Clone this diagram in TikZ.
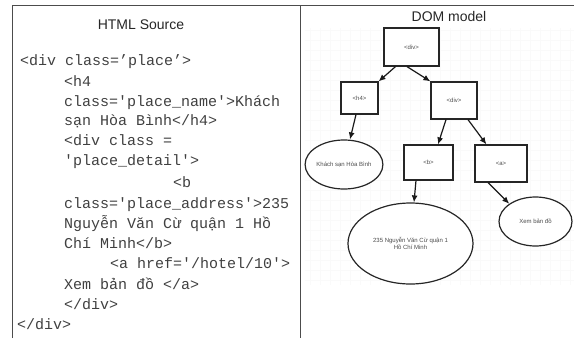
\documentclass[tikz,border=0pt]{standalone}
\usepackage{fontspec}
\setmainfont{Liberation Sans}
\setmonofont{Liberation Mono}
\usepackage{tikz}
\usetikzlibrary{shapes.geometric,arrows.meta}

\tikzset{
  title/.style={font=\fontsize{14}{16}\selectfont, text=black!85},
  code/.style={anchor=base west, inner sep=0pt, text=black!75, font=\ttfamily\fontsize{15}{18}\selectfont},
  tag/.style={draw=black!85, line width=1.2pt, fill=white, inner sep=0pt, text=black!70, font=\fontsize{6}{7}\selectfont},
  leaf/.style={tag, ellipse, align=center},
  link/.style={-{Latex[length=7pt,width=6pt]}, line width=1.2pt, black!90},
  frame/.style={draw=black!70, line width=0.9pt}
}

\begin{document}
\begin{tikzpicture}[x=1pt,y=-1pt]
    \useasboundingbox (0,0) rectangle (574,338);

    % table frame
    \draw[frame] (12,338) -- (12,5) -- (574,5);
    \draw[frame] (300,5) -- (300,338);
    \node[title] (src-title) at (141,25) {HTML Source};
    \node[title] (dom-title) at (449,16) {DOM model};

    % HTML source lines
    \node[code] (l1)  at (20,65)   {<div class=’place’>};
    \node[code] (l2)  at (64,86)   {<h4};
    \node[code] (l3)  at (64,106)  {class='place\_name'>Khách};
    \node[code] (l4)  at (64,125)  {sạn Hòa Bình</h4>};
    \node[code] (l5)  at (64,145)  {<div class =};
    \node[code] (l6)  at (64,165)  {'place\_detail'>};
    \node[code] (l7)  at (173,187) {<b};
    \node[code] (l8)  at (64,208)  {class='place\_address'>235};
    \node[code] (l9)  at (64,228)  {Nguyễn Văn Cừ quận 1 Hồ};
    \node[code] (l10) at (64,248)  {Chí Minh</b>};
    \node[code] (l11) at (110,268) {<a href='/hotel/10'>};
    \node[code] (l12) at (64,289)  {Xem bản đồ </a>};
    \node[code] (l13) at (64,309)  {</div>};
    \node[code] (l14) at (17,329)  {</div>};

    % faint canvas grid
    \draw[black!2, line width=0.4pt] (305,28) grid[step=10pt] (574,285);

    % Define nodes
    \node[tag, minimum width=55pt, minimum height=38pt] (root) at (411.5,47)   {<div>};
    \node[tag, minimum width=37pt, minimum height=32pt] (h4)   at (359.5,98)   {<h4>};
    \node[tag, minimum width=46pt, minimum height=37pt] (div)  at (454,100.5)  {<div>};
    \node[tag, minimum width=49pt, minimum height=35pt] (b)    at (428.5,162.5) {<b>};
    \node[tag, minimum width=52pt, minimum height=37pt] (a)    at (501,163.5)  {<a>};
    \node[leaf, minimum width=74pt, minimum height=49pt] (name) at (344,164.5) {Khách sạn Hòa Bình};
    \node[leaf, minimum width=125pt, minimum height=81pt] (addr) at (410.5,243.5) {235 Nguyễn Văn Cừ quận 1\\Hồ Chí Minh};
    \node[leaf, minimum width=73pt, minimum height=49pt] (map)  at (535.5,221.5) {Xem bản đồ};

    % Connect nodes
    \draw[link] ([xshift=-16pt]root.south) -- (h4.north east);
    \draw[link] ([xshift=-4.5pt]root.south) -- (div.north west);
    \draw[link] ([xshift=-3.5pt]h4.south) -- ([xshift=6pt]name.north);
    \draw[link] ([xshift=-8pt]div.south) -- ([xshift=9.5pt]b.north);
    \draw[link] ([xshift=14pt]div.south) -- ([xshift=12pt]a.north west);
    \draw[link] ([xshift=-12.5pt]b.south) -- ([xshift=3.5pt]addr.north);
    \draw[link] ([xshift=-13pt]a.south) -- (map.north west);
\end{tikzpicture}
\end{document}
